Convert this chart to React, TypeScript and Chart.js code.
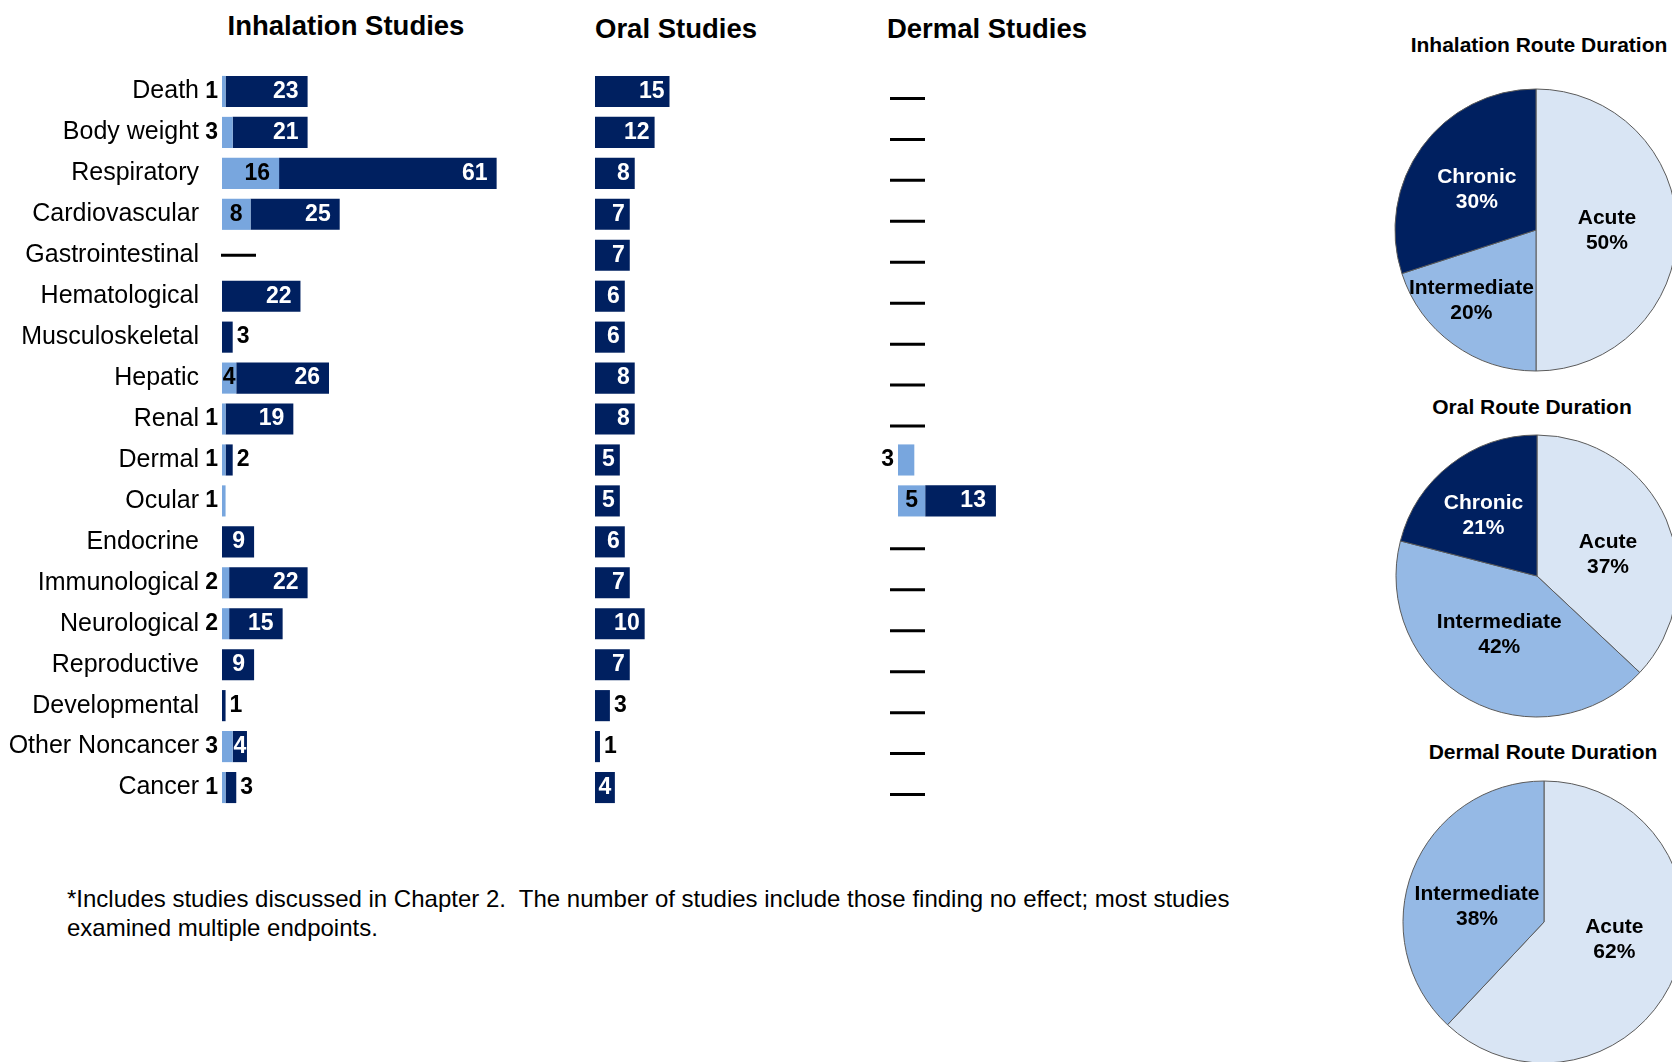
import React, { useEffect, useRef } from 'react';
import { Chart, registerables } from 'chart.js';

Chart.register(...registerables);

const FONT = '"Liberation Sans", Arial, Helvetica, sans-serif';

// ---------- data ----------
const categories = [
  'Death', 'Body weight', 'Respiratory', 'Cardiovascular', 'Gastrointestinal',
  'Hematological', 'Musculoskeletal', 'Hepatic', 'Renal', 'Dermal', 'Ocular',
  'Endocrine', 'Immunological', 'Neurological', 'Reproductive', 'Developmental',
  'Other Noncancer', 'Cancer',
];
const inhalationLight = [1, 3, 16, 8, 0, 0, 0, 4, 1, 1, 1, 0, 2, 2, 0, 0, 3, 1];
const inhalationDark = [23, 21, 61, 25, 0, 22, 3, 26, 19, 2, 0, 9, 22, 15, 9, 1, 4, 3];
const oralLight = [0, 0, 0, 0, 0, 0, 0, 0, 0, 0, 0, 0, 0, 0, 0, 0, 0, 0];
const oralDark = [15, 12, 8, 7, 7, 6, 6, 8, 8, 5, 5, 6, 7, 10, 7, 3, 1, 4];
const dermalLight = [0, 0, 0, 0, 0, 0, 0, 0, 0, 3, 5, 0, 0, 0, 0, 0, 0, 0];
const dermalDark = [0, 0, 0, 0, 0, 0, 0, 0, 0, 0, 13, 0, 0, 0, 0, 0, 0, 0];

const durationLabels = ['Acute', 'Intermediate', 'Chronic'];
const inhalationDuration = [50, 20, 30];
const oralDuration = [37, 42, 21];
const dermalDuration = [62, 38, 0];

const panelTitles = ['Inhalation Studies', 'Oral Studies', 'Dermal Studies'];
const pieTitles = ['Inhalation Route Duration', 'Oral Route Duration', 'Dermal Route Duration'];
const footnoteLines = [
  '*Includes studies discussed in Chapter 2.  The number of studies include those finding no effect; most studies',
  'examined multiple endpoints.',
];

// ---------- styles ----------
const DARK = '#002060';
const LIGHT = '#78A6DE';
const PIE_COLORS = ['#D9E5F4', '#95B9E5', '#002060'];
const PIE_TEXT = ['#000000', '#000000', '#FFFFFF'];

const barLabelPlugin = {
  id: 'barValueLabels',
  afterDatasetsDraw(chart: any, _args: any, opts: any) {
    const { ctx } = chart;
    const m0 = chart.getDatasetMeta(0);
    const m1 = chart.getDatasetMeta(1);
    const d0 = chart.data.datasets[0].data as number[];
    const d1 = chart.data.datasets[1].data as number[];
    const zero = chart.scales.x.getPixelForValue(0);
    ctx.save();
    ctx.font = `bold 23px ${FONT}`;
    ctx.textBaseline = 'middle';
    for (let i = 0; i < d0.length; i++) {
      const lv = d0[i];
      const dv = d1[i];
      const y = m0.data[i].y;
      if (!lv && !dv) {
        ctx.strokeStyle = '#000';
        ctx.lineWidth = 3;
        ctx.beginPath();
        ctx.moveTo(zero + opts.dashOffset, y + opts.dashDy);
        ctx.lineTo(zero + opts.dashOffset + opts.dashLen, y + opts.dashDy);
        ctx.stroke();
        continue;
      }
      const draw = (v: number, el: any, insideColor: string, outsideLeft: boolean) => {
        const x0 = Math.min(el.base, el.x);
        const x1 = Math.max(el.base, el.x);
        const w = x1 - x0;
        const txt = String(v);
        const tw = ctx.measureText(txt).width;
        if (w >= Math.max(opts.insideMin, tw)) {
          ctx.fillStyle = insideColor;
          if (w >= tw + 2 * opts.endPad) {
            ctx.textAlign = 'right';
            ctx.fillText(txt, x1 - opts.endPad, y);
          } else {
            ctx.textAlign = 'center';
            ctx.fillText(txt, (x0 + x1) / 2, y);
          }
        } else {
          ctx.fillStyle = '#000';
          if (outsideLeft) {
            ctx.textAlign = 'right';
            ctx.fillText(txt, x0 - 4, y);
          } else {
            ctx.textAlign = 'left';
            ctx.fillText(txt, x1 + 4, y);
          }
        }
      };
      if (lv > 0) draw(lv, m0.data[i], '#000', true);
      if (dv > 0) draw(dv, m1.data[i], '#FFF', false);
    }
    ctx.restore();
  },
};

const pieLabelPlugin = {
  id: 'pieLabels',
  afterDatasetsDraw(chart: any, _args: any, opts: any) {
    const { ctx } = chart;
    const meta = chart.getDatasetMeta(0);
    const data = chart.data.datasets[0].data as number[];
    ctx.save();
    ctx.font = `bold 21px ${FONT}`;
    ctx.textAlign = 'center';
    ctx.textBaseline = 'middle';
    meta.data.forEach((arc: any, i: number) => {
      if (!data[i]) return;
      const mid = (arc.startAngle + arc.endAngle) / 2 + ((opts.shifts[i] || 0) * Math.PI) / 180;
      const r = arc.outerRadius * (opts.factors[i] ?? 0.53);
      const x = arc.x + Math.cos(mid) * r;
      const y = arc.y + Math.sin(mid) * r;
      ctx.fillStyle = PIE_TEXT[i];
      ctx.fillText(chart.data.labels[i], x, y - 12.5);
      ctx.fillText(`${data[i]}%`, x, y + 12.5);
    });
    ctx.restore();
  },
};

type BarProps = {
  light: number[];
  dark: number[];
  showAxis: boolean;
  left: number;
  top: number;
  width: number;
  height: number;
  padLeft: number;
  xMax: number;
  endPad: number;
  insideMin: number;
  dashOffset: number;
  dashDy: number;
};

function BarPanel(p: BarProps) {
  const ref = useRef<HTMLCanvasElement | null>(null);
  useEffect(() => {
    if (!ref.current) return;
    const yScale: any = {
      stacked: true,
      display: p.showAxis,
      position: 'left',
      grid: { display: false, drawTicks: false },
      border: { display: false },
      ticks: { autoSkip: false, padding: 23, color: '#000', font: { family: FONT, size: 25 } },
    };
    if (p.showAxis) {
      yScale.afterFit = (s: any) => {
        s.width = 222;
        s.paddingTop = 0;
        s.paddingBottom = 0;
      };
    }
    const chart = new Chart(ref.current, {
      type: 'bar',
      data: {
        labels: categories,
        datasets: [
          { data: p.light, backgroundColor: LIGHT, borderWidth: 0, categoryPercentage: 1, barPercentage: 0.76 },
          { data: p.dark, backgroundColor: DARK, borderWidth: 0, categoryPercentage: 1, barPercentage: 0.76 },
        ],
      },
      options: {
        indexAxis: 'y',
        animation: false,
        responsive: false,
        devicePixelRatio: 1,
        layout: { padding: { left: p.padLeft, right: 0, top: 0, bottom: 0 } },
        scales: {
          x: { stacked: true, display: false, min: 0, max: p.xMax },
          y: yScale,
        },
        plugins: {
          legend: { display: false },
          tooltip: { enabled: false },
          barValueLabels: {
            endPad: p.endPad,
            insideMin: p.insideMin,
            dashOffset: p.dashOffset,
            dashDy: p.dashDy,
            dashLen: 35,
          },
        } as any,
      },
      plugins: [barLabelPlugin],
    });
    return () => chart.destroy();
  }, []);
  return (
    <canvas
      ref={ref}
      width={p.width}
      height={p.height}
      style={{ position: 'absolute', left: p.left, top: p.top, width: p.width, height: p.height, display: 'block' }}
    />
  );
}

type PieProps = { values: number[]; cx: number; cy: number; radius: number; factors: number[]; shifts: number[] };

function PiePanel(p: PieProps) {
  const ref = useRef<HTMLCanvasElement | null>(null);
  const size = 2 * p.radius + 20;
  useEffect(() => {
    if (!ref.current) return;
    const chart = new Chart(ref.current, {
      type: 'pie',
      data: {
        labels: durationLabels,
        datasets: [
          {
            data: p.values,
            backgroundColor: PIE_COLORS,
            borderColor: '#5A5A5A',
            borderWidth: 1,
            radius: p.radius,
          } as any,
        ],
      },
      options: {
        animation: false,
        responsive: false,
        devicePixelRatio: 1,
        layout: { padding: 0 },
        plugins: {
          legend: { display: false },
          tooltip: { enabled: false },
          pieLabels: { factors: p.factors, shifts: p.shifts },
        } as any,
      },
      plugins: [pieLabelPlugin],
    });
    return () => chart.destroy();
  }, []);
  return (
    <canvas
      ref={ref}
      width={size}
      height={size}
      style={{ position: 'absolute', left: p.cx - size / 2, top: p.cy - size / 2, width: size, height: size, display: 'block' }}
    />
  );
}

function Label(props: { cx: number; cy: number; size: number; text: string }) {
  const lh = Math.round(props.size * 1.2);
  return (
    <div
      style={{
        position: 'absolute',
        left: props.cx - 250,
        width: 500,
        top: props.cy - lh / 2,
        height: lh,
        lineHeight: `${lh}px`,
        textAlign: 'center',
        fontWeight: 'bold',
        fontSize: props.size,
        whiteSpace: 'nowrap',
        color: '#000',
      }}
    >
      {props.text}
    </div>
  );
}

export default function App() {
  return (
    <div
      style={{
        position: 'fixed',
        left: 0,
        top: 0,
        width: 1672,
        height: 1062,
        overflow: 'hidden',
        background: '#FFFFFF',
        fontFamily: FONT,
      }}
    >
      <Label cx={346} cy={25} size={27.5} text={panelTitles[0]} />
      <Label cx={676} cy={28} size={27.5} text={panelTitles[1]} />
      <Label cx={987} cy={28} size={27.5} text={panelTitles[2]} />

      <BarPanel light={inhalationLight} dark={inhalationDark} showAxis={true}
        left={0} top={71} width={543} height={737} padLeft={0} xMax={90}
        endPad={9} insideMin={12} dashOffset={-1} dashDy={0} />
      <BarPanel light={oralLight} dark={oralDark} showAxis={false}
        left={595} top={71} width={149} height={737} padLeft={0} xMax={30}
        endPad={5} insideMin={16} dashOffset={-1} dashDy={0} />
      <BarPanel light={dermalLight} dark={dermalDark} showAxis={false}
        left={860} top={71} width={174} height={737} padLeft={38} xMax={25}
        endPad={10} insideMin={18} dashOffset={-8} dashDy={7} />

      <Label cx={1539} cy={44} size={21} text={pieTitles[0]} />
      <Label cx={1532} cy={406} size={21} text={pieTitles[1]} />
      <Label cx={1543} cy={751} size={21} text={pieTitles[2]} />

      <PiePanel values={inhalationDuration} cx={1536} cy={230} radius={141}
        factors={[0.503, 0.677, 0.506]} shifts={[0.6, 6.6, -2]} />
      <PiePanel values={oralDuration} cx={1537} cy={576} radius={141}
        factors={[0.526, 0.497, 0.574]} shifts={[6.6, 3.8, -3.6]} />
      <PiePanel values={dermalDuration} cx={1544} cy={922} radius={141}
        factors={[0.515, 0.487, 0.5]} shifts={[-7.3, -9, 0]} />

      <div
        style={{
          position: 'absolute',
          left: 67,
          top: 884,
          fontSize: 24,
          lineHeight: '29px',
          color: '#000',
          whiteSpace: 'pre',
        }}
      >
        {footnoteLines[0]}
        <br />
        {footnoteLines[1]}
      </div>
    </div>
  );
}
